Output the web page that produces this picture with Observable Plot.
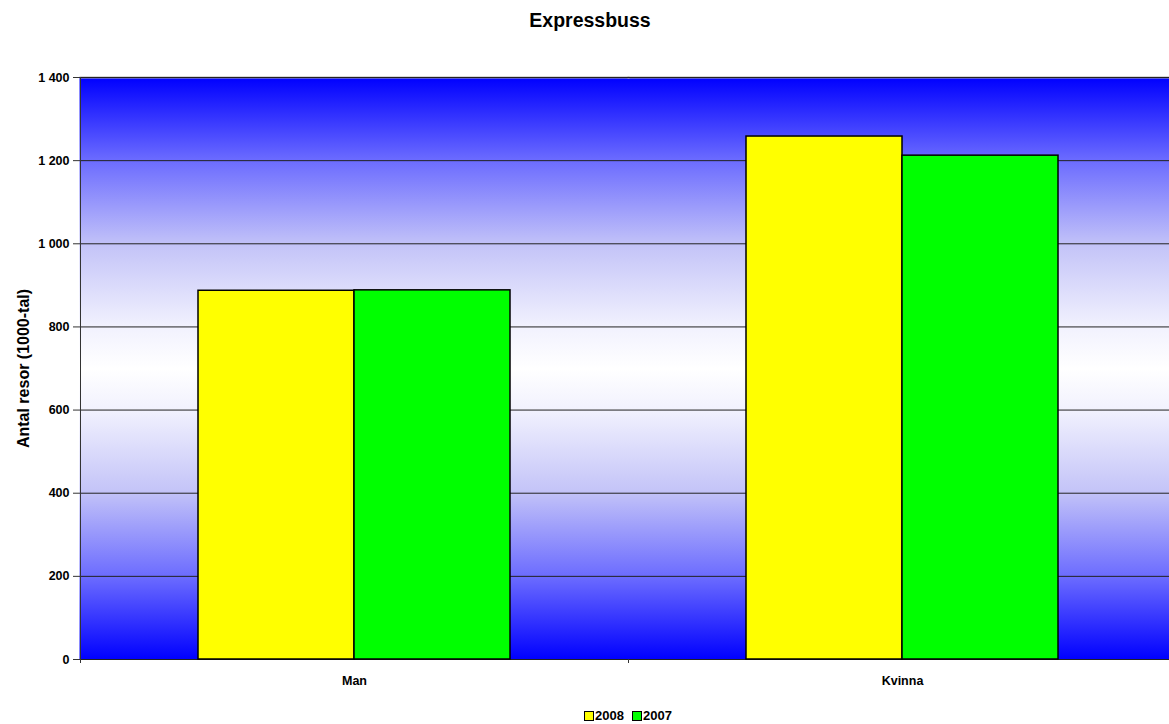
<!DOCTYPE html>
<html>
<head>
<meta charset="utf-8">
<script src="https://cdn.jsdelivr.net/npm/d3@7"></script>
<script src="https://cdn.jsdelivr.net/npm/@observablehq/plot@0.6"></script>
<style>
  html, body { margin: 0; padding: 0; background: #fff; width: 1169px; height: 724px; overflow: hidden; }
  body { font-family: "Liberation Sans", Arial, sans-serif; position: relative; }
  #title { position: absolute; top: 9px; left: 0; width: 1180px; text-align: center; font-weight: bold; font-size: 19.5px; line-height: 22px; }
  #chart { position: absolute; top: 60px; left: 0; }
  #legend { position: absolute; top: 708px; left: 0; width: 1256px; display: flex; justify-content: center; gap: 8px; font-weight: bold; font-size: 13px; line-height: 15px; }
  .item { display: flex; align-items: center; gap: 1px; }
  .sw { width: 8px; height: 8px; border: 1px solid #000; display: inline-block; }
</style>
</head>
<body>
<div id="title">Expressbuss</div>
<div id="chart"></div>
<div id="legend"></div>
<script>
const categories = ["Man", "Kvinna"];
const years = ["2008", "2007"];
const values2008 = [887, 1258];
const values2007 = [888, 1212];
const yTicks = [0, 200, 400, 600, 800, 1000, 1200, 1400];
const colors = ["#ffff00", "#00ff00"];
const yLabel = "Antal resor (1000-tal)";

const data = [];
categories.forEach((c, i) => {
  data.push({cat: c, year: years[0], value: values2008[i]});
  data.push({cat: c, year: years[1], value: values2007[i]});
});

const fmt = d => d3.format(",")(d).replace(/,/g, " ");
const font = "Liberation Sans, Arial, sans-serif";

const plot = Plot.plot({
  width: 1169,
  height: 640,
  marginLeft: 80,
  marginRight: -7,
  marginTop: 17,
  marginBottom: 41,
  style: {fontFamily: font, background: "transparent"},
  fx: {domain: categories, padding: 0},
  x: {domain: years, paddingInner: 0, paddingOuter: 0.75, axis: null},
  y: {domain: [0, 1400]},
  color: {domain: years, range: colors},
  marks: [
    Plot.frame({fill: "url(#bgGrad)", stroke: null, insetLeft: -1, insetRight: -1}),
    Plot.frame({anchor: "top", stroke: "#b0b0b0", strokeWidth: 2}),
    Plot.ruleY(yTicks, {stroke: "#222", strokeWidth: 1}),
    Plot.barY(data, {fx: "cat", x: "year", y: "value", fill: "year", stroke: "#000", strokeWidth: 1.5, insetLeft: 0, insetRight: 0}),
    Plot.frame({anchor: "left", stroke: "#333", strokeWidth: 1, facetAnchor: "left"}),
    Plot.axisY({ticks: yTicks, tickFormat: fmt, tickSize: 7, tickPadding: 4, fontSize: 12.5, fontWeight: "bold", label: null, stroke: "#333"}),
    Plot.axisFx({anchor: "bottom", text: null, tickSize: 4, dx: -274, label: null, stroke: "#333"}),
    Plot.axisFx({anchor: "bottom", tickSize: 0, tickPadding: 17, fontSize: 12.5, fontWeight: "bold", label: null}),
    Plot.text([yLabel], {frameAnchor: "left", rotate: -90, dx: -57, textAnchor: "middle", fontSize: 16, fontWeight: "bold", facetAnchor: "left"})
  ]
});

const ns = "http://www.w3.org/2000/svg";
const defs = document.createElementNS(ns, "defs");
defs.innerHTML = `<linearGradient id="bgGrad" x1="0" y1="0" x2="0" y2="1">
  <stop offset="0" stop-color="#0000ff"/>
  <stop offset="0.14" stop-color="#6a6aff"/>
  <stop offset="0.29" stop-color="#c4c4f8"/>
  <stop offset="0.43" stop-color="#f2f2fe"/>
  <stop offset="0.5" stop-color="#ffffff"/>
  <stop offset="0.57" stop-color="#f2f2fe"/>
  <stop offset="0.71" stop-color="#c4c4f8"/>
  <stop offset="0.86" stop-color="#6a6aff"/>
  <stop offset="1" stop-color="#0000ff"/>
</linearGradient>`;
plot.insertBefore(defs, plot.firstChild);
document.getElementById("chart").appendChild(plot);

const legend = document.getElementById("legend");
years.forEach((y, i) => {
  const item = document.createElement("div");
  item.className = "item";
  const sw = document.createElement("span");
  sw.className = "sw";
  sw.style.background = colors[i];
  const t = document.createElement("span");
  t.textContent = y;
  item.appendChild(sw);
  item.appendChild(t);
  legend.appendChild(item);
});
</script>
</body>
</html>
